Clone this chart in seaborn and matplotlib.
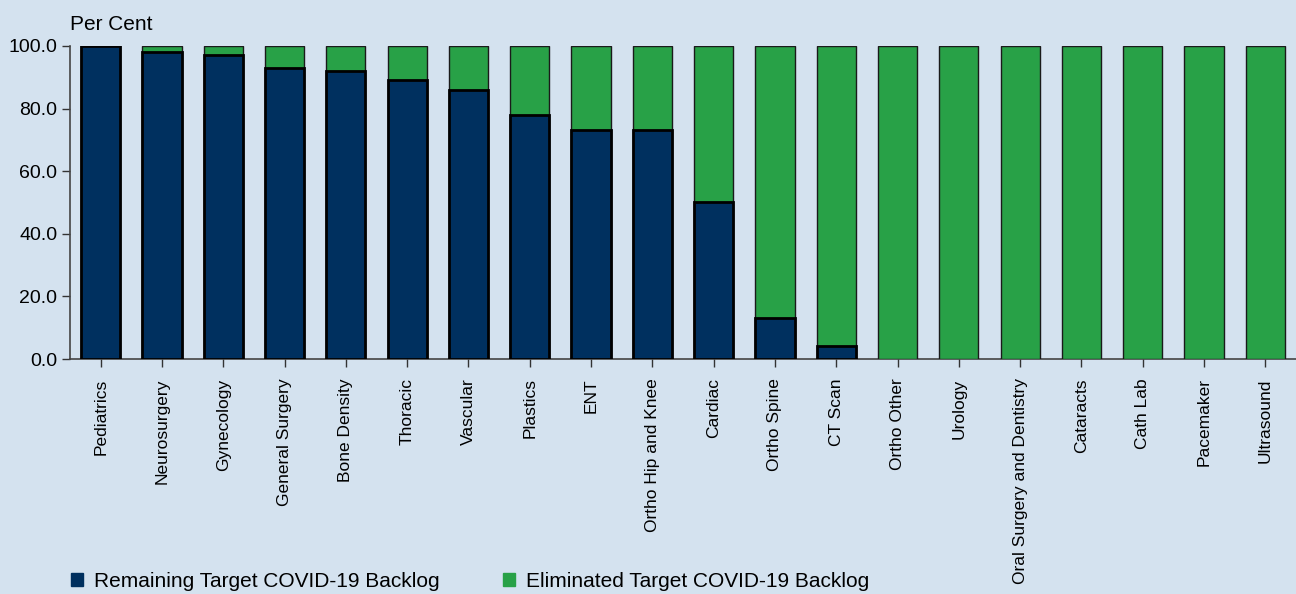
import pandas as pd
import matplotlib.pyplot as plt
import seaborn as sns
from matplotlib.patches import Patch

categories = ['Pediatrics', 'Neurosurgery', 'Gynecology', 'General Surgery', 'Bone Density',
              'Thoracic', 'Vascular', 'Plastics', 'ENT', 'Ortho Hip and Knee', 'Cardiac',
              'Ortho Spine', 'CT Scan', 'Ortho Other', 'Urology', 'Oral Surgery and Dentistry',
              'Cataracts', 'Cath Lab', 'Pacemaker', 'Ultrasound']
remaining = [100, 98, 97, 93, 92, 89, 86, 78, 73, 73, 50, 13, 4, 0, 0, 0, 0, 0, 0, 0]
eliminated = [100 - r for r in remaining]
yticks = [0, 20, 40, 60, 80, 100]

bg = '#d4e2ef'
navy = '#00305f'
green = '#28a147'

df = pd.DataFrame({'cat': categories, 'remaining': remaining,
                   'total': [r + e for r, e in zip(remaining, eliminated)]})

sns.set_style('ticks')
plt.rcParams['font.family'] = ['Liberation Sans', 'DejaVu Sans']
plt.rcParams['text.color'] = 'black'
plt.rcParams['xtick.labelcolor'] = 'black'
plt.rcParams['ytick.labelcolor'] = 'black'

fig = plt.figure(figsize=(12.96, 5.94), dpi=100, facecolor=bg)
ax = fig.add_axes([0.054, 0.3956, 0.946, 0.527])
ax.set_facecolor(bg)

# green = whole target, navy drawn over it for what is left
sns.barplot(data=df, x='cat', y='total', color=green, width=0.64, saturation=1,
            edgecolor='#1a1a1a', linewidth=1.0, ax=ax)
sns.barplot(data=df[df['remaining'] > 0], x='cat', y='remaining', order=categories, color=navy,
            width=0.64, saturation=1, edgecolor='black', linewidth=2.0, ax=ax)

ax.set_xlim(-0.5, 19.5)
ax.set_ylim(0, 100)
ax.set_yticks(yticks)
ax.set_yticklabels([f'{v:.1f}' for v in yticks], fontsize=14)
ax.set_xticks(range(len(categories)))
ax.set_xticklabels(categories, rotation=90, fontsize=12.5)
ax.tick_params(axis='x', length=6, width=1, color='#333333', pad=8)
ax.tick_params(axis='y', length=6, width=1, color='#333333', pad=3)
ax.set_xlabel('')
ax.set_ylabel('')
for s in ['top', 'right']:
    ax.spines[s].set_visible(False)
for s in ['left', 'bottom']:
    ax.spines[s].set_color('#444444')
    ax.spines[s].set_linewidth(1.2)
ax.spines['bottom'].set_zorder(0)

fig.text(0.054, 0.975, 'Per Cent', fontsize=15, ha='left', va='top')

handles = [Patch(color=navy, label='Remaining Target COVID-19 Backlog'),
           Patch(color=green, label='Eliminated Target COVID-19 Backlog')]
fig.legend(handles=handles, loc='lower left', bbox_to_anchor=(0.040, -0.026), ncol=2,
           frameon=False, fontsize=15, handlelength=0.6, handleheight=0.6,
           handletextpad=0.5, columnspacing=3.05)

fig.savefig('out.png', dpi=100, facecolor=bg)
